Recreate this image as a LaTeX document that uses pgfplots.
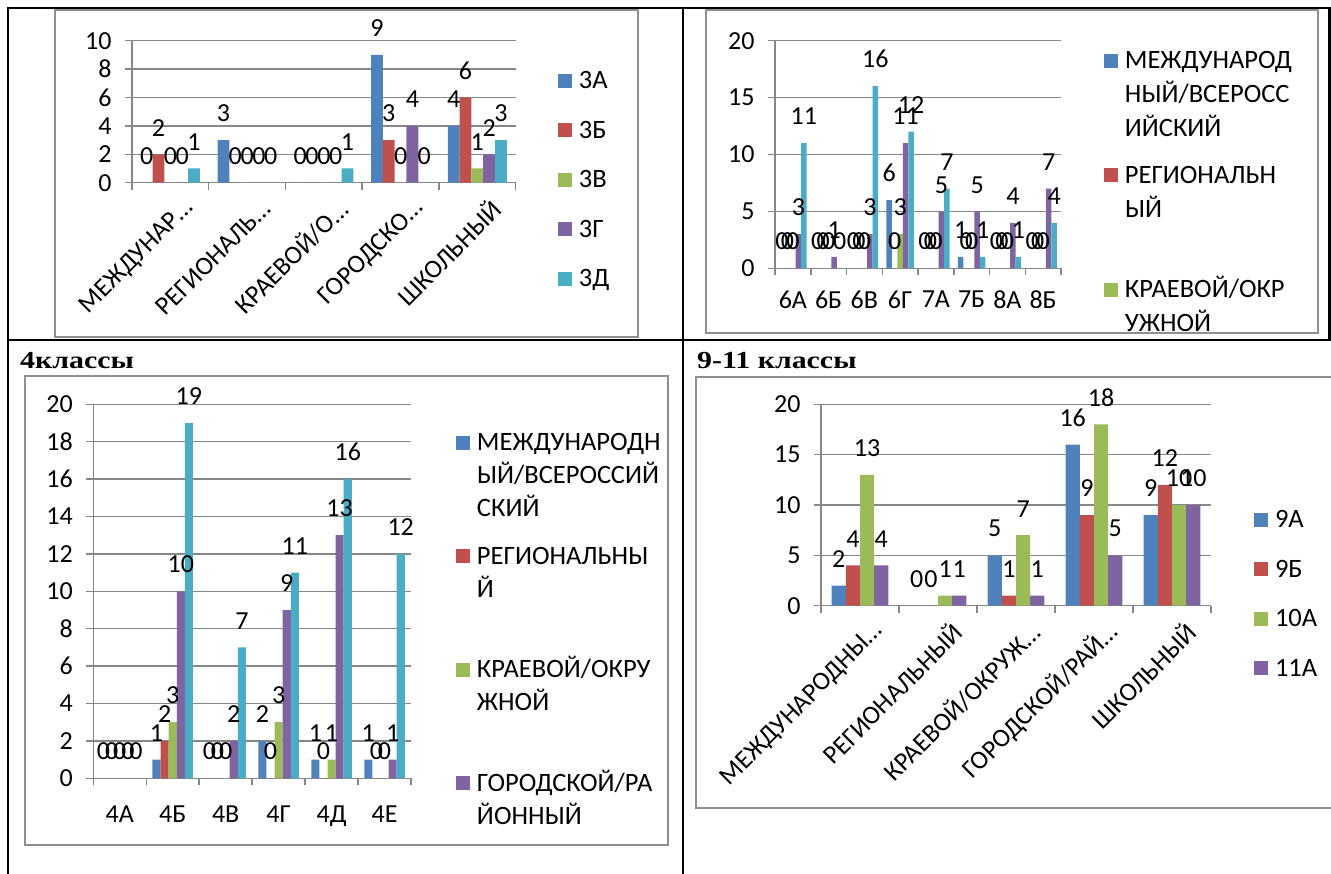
\documentclass[border=0pt]{standalone}
\usepackage{fontspec}
\setmainfont{Carlito}
\newfontfamily\hdr{Liberation Serif}[FakeStretch=1.22]
\usepackage{pgfplots}
\pgfplotsset{compat=1.18}
\definecolor{cA}{HTML}{4F81BD}
\definecolor{cB}{HTML}{C0504D}
\definecolor{cC}{HTML}{9BBB59}
\definecolor{cD}{HTML}{8064A2}
\definecolor{cE}{HTML}{4BACC6}
\definecolor{gridc}{HTML}{878787}
\definecolor{framec}{HTML}{8F8F8F}
\newcommand{\lstack}[1]{\raisebox{0pt}[.65em][0pt]{\begin{tabular}[t]{@{}l@{}}#1\end{tabular}}}
\newcommand{\cf}{\fontsize{26}{34}\selectfont}
\newcommand{\lf}{\fontsize{26.5}{34}\selectfont}
\pgfplotsset{
  sqlegend/.style={legend image code/.code={\path[##1,draw=none] (0pt,-7pt) rectangle (14pt,7pt);}},
  xlchart/.style={
    scale only axis, anchor=south west, clip=false,
    ybar=0pt,
    /pgf/number format/assume math mode=true,
    font=\cf,
    axis lines*=left,
    axis line style={gridc, line width=1.5pt, -},
    ymajorgrids, grid style={gridc, line width=1.5pt},
    ymin=0,
    tick align=outside,
    tick style={gridc, line width=1.5pt},
    major tick length=7pt, minor tick length=7pt,
    every major x tick/.append style={draw=none},
    every minor x tick/.append style={draw=gridc},
    yticklabel style={xshift=-10pt},
    nodes near coords,
    every node near coord/.append style={font=\cf, text=black, inner sep=0pt, anchor=south, yshift=18pt},
    every axis plot post/.append style={sqlegend, draw=none},
    legend style={draw=none, fill=none, inner sep=0pt, outer sep=0pt, anchor=north west,
      column sep=7pt, cells={anchor=west}, font=\lf, nodes={inner sep=0pt}},
  },
  rotlabels/.style={xticklabel style={rotate=45, anchor=east, inner sep=0pt, xshift=3pt, yshift=-24pt}}
}
\begin{document}
\begin{tikzpicture}
\path[use as bounding box] (0pt,0pt) rectangle (1331pt,-874pt);
\begin{scope}[x=1pt,y=-1pt]
  % table borders
  \draw[black, line width=2.5pt] (8,874) -- (8,8) -- (1331,8);
  \draw[black, line width=2.5pt] (683,8) -- (683,874);
  \draw[black, line width=2.5pt] (8,340) -- (1331,340);
  \draw[black, line width=2.5pt] (1329.5,8) -- (1329.5,340);
  % chart frames
  \draw[framec, line width=2pt] (54.5,10.5) rectangle (637.5,337);
  \draw[framec, line width=2pt] (706,10.5) rectangle (1318,333);
  \draw[framec, line width=2pt] (25,376) rectangle (668,845);
  \draw[framec, line width=2pt] (696,377) rectangle (1345,808);
  % headers
  \node[anchor=base west, inner sep=0pt, font=\hdr\bfseries\fontsize{24.5}{28}\selectfont] at (20,369) {4классы};
  \node[anchor=base west, inner sep=0pt, font=\hdr\bfseries\fontsize{24.5}{28}\selectfont] at (697,369) {9-11 классы};
\end{scope}

% ---------------- chart 1 : 3 classes
\begin{axis}[xlchart, rotlabels, at={(132pt,-182.7pt)}, width=383.7pt, height=142pt,
  ymax=10, ytick={0,2,...,10}, xmin=-0.5, xmax=4.5, xtick={0,...,4},
  minor xtick={-0.5,0.5,...,4.5}, bar width=11.8pt,
  xticklabels={МЕЖДУНАР…\hspace{-20pt}, РЕГИОНАЛЬ…\hspace{-20pt}, КРАЕВОЙ/О…\hspace{-20pt}, ГОРОДСКО…\hspace{-20pt}, ШКОЛЬНЫЙ},
  legend style={at={(1.110,0.784)}, row sep=30.8pt}]
\addplot[fill=cA] coordinates {(0,0) (1,3) (2,0) (3,9) (4,4)};
\addlegendentry{\lstack{3А}}
\addplot[fill=cB] coordinates {(0,2) (1,0) (2,0) (3,3) (4,6)};
\addlegendentry{\lstack{3Б}}
\addplot[fill=cC] coordinates {(0,0) (1,0) (2,0) (3,0) (4,1)};
\addlegendentry{\lstack{3В}}
\addplot[fill=cD] coordinates {(0,0) (1,0) (2,0) (3,4) (4,2)};
\addlegendentry{\lstack{3Г}}
\addplot[fill=cE] coordinates {(0,1) (1,0) (2,1) (3,0) (4,3)};
\addlegendentry{\lstack{3Д}}
\end{axis}

% ---------------- chart 2 : 6-8 classes
\begin{axis}[xlchart, at={(775pt,-268.3pt)}, width=286pt, height=227.6pt,
  ymax=20, ytick={0,5,...,20}, xmin=-0.5, xmax=7.5, xtick={0,...,7},
  minor xtick={-0.5,0.5,...,7.5}, bar width=5.5pt,
  xticklabels={6А,6Б,6В,6Г,7А,7Б,8А,8Б},
  xticklabel style={yshift=-12pt},
  legend style={at={(1.150,0.953)}, row sep=95.8pt}]
\addplot[fill=cA] coordinates {(0,0) (1,0) (2,0) (3,6) (4,0) (5,1) (6,0) (7,0)};
\addlegendentry{\lstack{МЕЖДУНАРОД\\НЫЙ/ВСЕРОСС\\ИЙСКИЙ}}
\addplot[fill=cB] coordinates {(0,0) (1,0) (2,0) (3,0) (4,0) (5,0) (6,0) (7,0)};
\addlegendentry{\lstack{РЕГИОНАЛЬН\\ЫЙ}}
\addplot[fill=cC] coordinates {(0,0) (1,0) (2,0) (3,3) (4,0) (5,0) (6,0) (7,0)};
\addlegendentry{\lstack{КРАЕВОЙ/ОКР\\УЖНОЙ}}
\addplot[fill=cD] coordinates {(0,3) (1,1) (2,3) (3,11) (4,5) (5,5) (6,4) (7,7)};
\addplot[fill=cE] coordinates {(0,11) (1,0) (2,16) (3,12) (4,7) (5,1) (6,1) (7,4)};
\end{axis}

% ---------------- chart 3 : 4 classes
\begin{axis}[xlchart, at={(93.3pt,-778.3pt)}, width=317.7pt, height=374pt,
  ymax=20, ytick={0,2,...,20}, xmin=-0.5, xmax=5.5, xtick={0,...,5},
  minor xtick={-0.5,0.5,...,5.5}, bar width=8.1pt,
  xticklabels={4А,4Б,4В,4Г,4Д,4Е},
  xticklabel style={yshift=-17pt},
  legend style={at={(1.1416,0.922)}, row sep=94.8pt, font=\fontsize{26.5}{33}\selectfont}]
\addplot[fill=cA] coordinates {(0,0) (1,1) (2,0) (3,2) (4,1) (5,1)};
\addlegendentry{\lstack{МЕЖДУНАРОДН\\ЫЙ/ВСЕРОССИЙ\\СКИЙ}}
\addplot[fill=cB] coordinates {(0,0) (1,2) (2,0) (3,0) (4,0) (5,0)};
\addlegendentry{\lstack{РЕГИОНАЛЬНЫ\\Й}}
\addplot[fill=cC] coordinates {(0,0) (1,3) (2,0) (3,3) (4,1) (5,0)};
\addlegendentry{\lstack{КРАЕВОЙ/ОКРУ\\ЖНОЙ}}
\addplot[fill=cD] coordinates {(0,0) (1,10) (2,2) (3,9) (4,13) (5,1)};
\addlegendentry{\lstack{ГОРОДСКОЙ/РА\\ЙОННЫЙ}}
\addplot[fill=cE] coordinates {(0,0) (1,19) (2,7) (3,11) (4,16) (5,12)};
\end{axis}

% ---------------- chart 4 : 9-11 classes
\begin{axis}[xlchart, rotlabels, at={(821pt,-605.7pt)}, width=390pt, height=201.4pt,
  ymax=20, ytick={0,5,...,20}, xmin=-0.5, xmax=4.5, xtick={0,...,4},
  minor xtick={-0.5,0.5,...,4.5}, bar width=14.2pt,
  xticklabels={МЕЖДУНАРОДНЫ…\hspace{-20pt}, РЕГИОНАЛЬНЫЙ, КРАЕВОЙ/ОКРУЖ…\hspace{-20pt}, ГОРОДСКОЙ/РАЙ…\hspace{-20pt}, ШКОЛЬНЫЙ},
  legend style={at={(1.1103,0.473)}, row sep=30.8pt}]
\addplot[fill=cA] coordinates {(0,2) (1,0) (2,5) (3,16) (4,9)};
\addlegendentry{\lstack{9А}}
\addplot[fill=cB] coordinates {(0,4) (1,0) (2,1) (3,9) (4,12)};
\addlegendentry{\lstack{9Б}}
\addplot[fill=cC] coordinates {(0,13) (1,1) (2,7) (3,18) (4,10)};
\addlegendentry{\lstack{10А}}
\addplot[fill=cD] coordinates {(0,4) (1,1) (2,1) (3,5) (4,10)};
\addlegendentry{\lstack{11А}}
\end{axis}
\end{tikzpicture}
\end{document}
